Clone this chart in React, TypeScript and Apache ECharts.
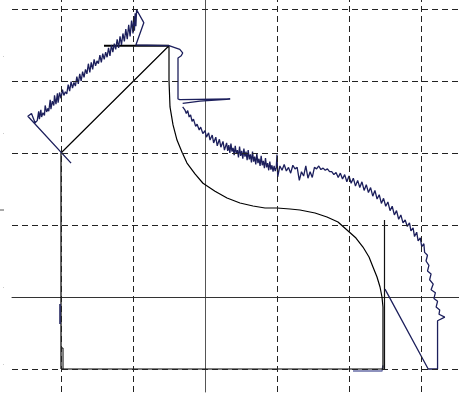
import React, { useEffect, useRef } from "react";
import * as echarts from "echarts";

// grid lines (in axis units)
const gridXs = [-2, -1, 1, 2, 3];
const gridYs = [-1, 1, 2, 3, 4];

// black closed outline
const outline: [number, number][] = [
  [-2, -1], [-2, 2], [-0.5, 3.49], [-0.5, 3.01], [-0.486, 2.64], [-0.444, 2.39],
  [-0.389, 2.18], [-0.319, 2.01], [-0.25, 1.86], [-0.139, 1.71], [-0.028, 1.58],
  [0.139, 1.47], [0.306, 1.375], [0.486, 1.306], [0.667, 1.264], [0.833, 1.236],
  [1.0, 1.236], [1.181, 1.222], [1.319, 1.208], [1.528, 1.167], [1.694, 1.111],
  [1.847, 1.042], [1.972, 0.931], [2.097, 0.819], [2.194, 0.694], [2.278, 0.556],
  [2.333, 0.417], [2.389, 0.278], [2.431, 0.139], [2.458, 0], [2.472, -0.139],
  [2.472, -0.319], [2.472, -0.597], [2.472, -0.986], [2.472, -1], [-2, -1],
];
const topBar: [number, number][] = [[-1.403, 3.49], [-0.5, 3.49]];
const smallStep: [number, number][] = [[-2, -0.708], [-1.972, -0.708], [-1.972, -1]];
const rightStem: [number, number][] = [[2.493, 1.069], [2.493, -1]];

// navy noisy trace
const traceUpper: [number, number][] = [
  [-1.86, 1.86], [-2.46, 2.51], [-2.41, 2.55], [-2.36, 2.42],
  [-2.33, 2.45], [-2.31, 2.58], [-2.30, 2.47], [-2.28, 2.60], [-2.27, 2.50],
  [-2.25, 2.56], [-2.23, 2.52], [-2.22, 2.66], [-2.20, 2.57], [-2.18, 2.62],
  [-2.17, 2.58], [-2.15, 2.74], [-2.14, 2.61], [-2.12, 2.72], [-2.10, 2.66],
  [-2.09, 2.80], [-2.07, 2.68], [-2.05, 2.83], [-2.04, 2.70], [-2.02, 2.84],
  [-2.00, 2.76], [-1.98, 2.88], [-1.96, 2.80], [-1.94, 2.85], [-1.92, 2.82],
  [-1.90, 2.95], [-1.88, 2.86], [-1.86, 2.99], [-1.84, 2.90], [-1.82, 2.98],
  [-1.80, 2.93], [-1.78, 3.06], [-1.76, 2.96], [-1.74, 3.10], [-1.72, 3.00],
  [-1.70, 3.13], [-1.68, 3.05], [-1.66, 3.16], [-1.64, 3.10], [-1.62, 3.24],
  [-1.60, 3.12], [-1.58, 3.26], [-1.56, 3.16], [-1.54, 3.30], [-1.52, 3.21],
  [-1.50, 3.28], [-1.48, 3.24], [-1.46, 3.36], [-1.44, 3.26], [-1.42, 3.38],
  [-1.40, 3.30], [-1.38, 3.40], [-1.36, 3.33], [-1.34, 3.46], [-1.32, 3.35],
  [-1.30, 3.50], [-1.28, 3.40], [-1.26, 3.52], [-1.24, 3.44], [-1.22, 3.58],
  [-1.20, 3.46], [-1.18, 3.62], [-1.16, 3.50], [-1.14, 3.66], [-1.12, 3.55],
  [-1.10, 3.72], [-1.08, 3.58], [-1.06, 3.78], [-1.04, 3.62], [-1.02, 3.84],
  [-1.00, 3.66], [-0.99, 3.90], [-0.98, 3.70], [-0.97, 3.94], [-0.96, 3.76],
  [-0.95, 3.99],
  [-0.85, 3.81], [-0.96, 3.50], [-0.5, 3.49], [-0.35, 3.44], [-0.31, 3.39],
  [-0.33, 3.35], [-0.375, 3.32], [-0.375, 2.75], [-0.35, 2.74], [0.35, 2.75],
  [-0.07, 2.72], [-0.31, 2.69],
];
const traceLower: [number, number][] = [
  [-0.31, 2.64], [-0.28, 2.60], [-0.26, 2.55], [-0.24, 2.59], [-0.22, 2.50],
  [-0.20, 2.53], [-0.18, 2.44], [-0.16, 2.47], [-0.13, 2.37], [-0.11, 2.40],
  [-0.08, 2.32], [-0.06, 2.36], [-0.03, 2.27], [0.00, 2.31], [0.02, 2.22],
  [0.05, 2.28], [0.07, 2.18], [0.10, 2.25], [0.12, 2.14], [0.15, 2.22],
  [0.17, 2.10], [0.20, 2.19], [0.22, 2.08], [0.25, 2.16], [0.27, 2.04],
  [0.30, 2.14], [0.315, 2.03], [0.33, 2.11], [0.345, 2.00], [0.36, 2.13],
  [0.375, 2.02], [0.39, 2.07], [0.405, 1.97], [0.42, 2.10], [0.435, 1.99],
  [0.45, 2.04], [0.465, 1.94], [0.48, 2.09], [0.495, 1.96], [0.51, 2.03],
  [0.525, 1.92], [0.54, 2.06], [0.555, 1.95], [0.57, 2.02], [0.585, 1.90],
  [0.60, 2.04], [0.615, 1.91], [0.63, 1.98], [0.645, 1.87], [0.66, 2.02],
  [0.675, 1.88], [0.69, 1.95], [0.705, 1.84], [0.72, 1.99], [0.735, 1.86],
  [0.75, 1.92], [0.765, 1.82], [0.78, 1.96], [0.795, 1.83], [0.81, 1.89],
  [0.825, 1.79], [0.84, 1.93], [0.855, 1.80], [0.87, 1.86], [0.885, 1.76],
  [0.90, 1.88], [0.915, 1.77], [0.93, 1.83], [0.945, 1.74], [0.96, 1.82],
  [0.975, 1.75], [0.99, 1.80],
  [1.00, 1.98], [1.01, 1.67], [1.04, 1.82], [1.07, 1.76], [1.10, 1.84],
  [1.13, 1.75], [1.16, 1.80], [1.19, 1.72], [1.22, 1.83], [1.25, 1.78],
  [1.28, 1.80], [1.31, 1.62], [1.34, 1.74], [1.37, 1.68], [1.40, 1.82],
  [1.43, 1.65], [1.46, 1.74], [1.49, 1.66], [1.52, 1.80], [1.55, 1.78],
  [1.58, 1.82], [1.61, 1.77], [1.64, 1.79], [1.67, 1.76], [1.70, 1.78],
  [1.73, 1.74], [1.76, 1.74], [1.79, 1.70], [1.82, 1.73], [1.85, 1.66],
  [1.88, 1.72], [1.91, 1.64], [1.94, 1.70], [1.97, 1.60], [2.00, 1.68],
  [2.03, 1.58], [2.06, 1.65], [2.09, 1.54], [2.12, 1.62], [2.15, 1.52],
  [2.18, 1.60], [2.21, 1.48], [2.24, 1.56], [2.27, 1.45], [2.30, 1.52],
  [2.33, 1.40], [2.36, 1.48], [2.39, 1.36], [2.42, 1.42], [2.45, 1.30],
  [2.48, 1.37], [2.51, 1.26], [2.54, 1.32], [2.57, 1.20], [2.60, 1.26],
  [2.63, 1.14], [2.66, 1.20], [2.69, 1.08], [2.72, 1.14], [2.75, 1.03],
  [2.78, 1.07], [2.81, 0.98], [2.84, 1.03], [2.86, 0.92], [2.89, 0.96],
  [2.91, 0.84], [2.94, 0.90], [2.96, 0.78], [2.99, 0.82], [3.01, 0.70],
  [3.04, 0.74], [3.05, 0.62], [3.09, 0.58], [3.07, 0.50], [3.11, 0.44],
  [3.09, 0.36], [3.14, 0.32], [3.12, 0.24], [3.17, 0.18], [3.14, 0.10],
  [3.20, 0.06], [3.18, -0.02], [3.23, -0.06], [3.21, -0.14], [3.26, -0.18],
  [3.25, -0.24], [3.33, -0.28], [3.23, -0.33], [3.23, -1.00], [3.10, -1.00],
  [2.50, 0.11],
];
const bottomTrace: [number, number][] = [[2.056, -1.028], [2.458, -1.028], [2.472, -0.95]];
const leftTrace: [number, number][] = [[-2.014, -0.097], [-2.014, -0.375]];

const X_MIN = -2.6806;
const X_MAX = 3.5278;
const Y_MIN = -1.3194;
const Y_MAX = 4.125;

const NAVY = "#1c1f5c";

export default function App() {
  const ref = useRef<HTMLDivElement>(null);
  useEffect(() => {
    if (!ref.current) return;
    const chart = echarts.init(ref.current, undefined, { renderer: "svg" });
    const line = (data: [number, number][], color: string, width = 1, z = 3) => ({
      type: "line",
      data,
      showSymbol: false,
      symbol: "none",
      lineStyle: { color, width },
      z,
      silent: true,
    });
    chart.setOption({
      animation: false,
      backgroundColor: "#fff",
      grid: { left: 12, right: 0, top: 0, bottom: 6 },
      xAxis: {
        type: "value",
        min: X_MIN,
        max: X_MAX,
        axisLine: { show: true, onZero: true, lineStyle: { color: "#333", width: 1 } },
        axisTick: { show: false },
        axisLabel: { show: false },
        splitLine: { show: false },
      },
      yAxis: {
        type: "value",
        min: Y_MIN,
        max: Y_MAX,
        axisLine: { show: true, onZero: true, lineStyle: { color: "#555", width: 1 } },
        axisTick: { show: false },
        axisLabel: { show: false },
        splitLine: { show: false },
      },
      graphic: [
        { type: "line", shape: { x1: 0, y1: 210, x2: 4, y2: 210 }, style: { stroke: "#555", lineWidth: 1 } },
        { type: "rect", shape: { x: 3, y: 56, width: 1, height: 1 }, style: { fill: "#ccc" } },
        { type: "rect", shape: { x: 3, y: 133, width: 1, height: 1 }, style: { fill: "#ccc" } },
        { type: "rect", shape: { x: 3, y: 287, width: 1, height: 1 }, style: { fill: "#ccc" } },
        { type: "rect", shape: { x: 3, y: 364, width: 1, height: 1 }, style: { fill: "#ccc" } },
      ],
      series: [
        {
          type: "line",
          data: [],
          silent: true,
          z: 1,
          markLine: {
            silent: true,
            symbol: ["none", "none"],
            label: { show: false },
            lineStyle: { color: "#222", width: 1, type: [6, 4] },
            data: [
              ...gridXs.map((v) => ({ xAxis: v })),
              ...gridYs.map((v) => ({ yAxis: v })),
            ],
          },
        },
        line(outline, "#000", 1.2),
        line(topBar, "#000", 2),
        line(smallStep, "#000", 1),
        line(rightStem, "#111", 1.2),
        line(traceUpper, NAVY, 1.3, 4),
        line(traceLower, NAVY, 1.3, 4),
        line(bottomTrace, "#6a6fa8", 1.5, 2),
        line(leftTrace, NAVY, 1.5, 4),
      ],
    });
    return () => chart.dispose();
  }, []);
  return (
    <div
      ref={ref}
      style={{ position: "fixed", left: 0, top: 0, width: 459, height: 398, background: "#fff" }}
    />
  );
}
